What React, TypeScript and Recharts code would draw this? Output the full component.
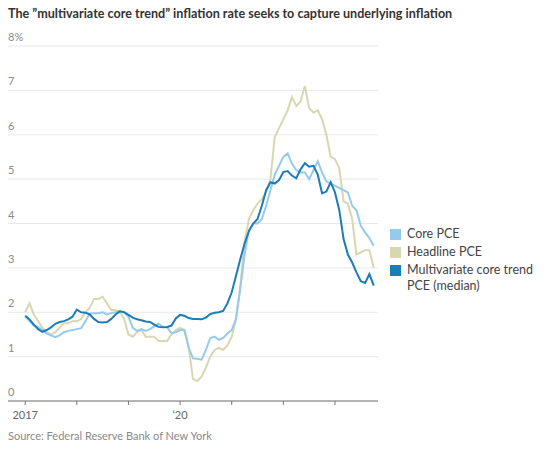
import React from "react";
import {
  LineChart,
  Line,
  XAxis,
  YAxis,
  CartesianGrid,
} from "recharts";

// monthly, Jan 2017 .. Oct 2023 (year-over-year %)
const corePce = [
  1.9, 1.8, 1.7, 1.67, 1.6, 1.52, 1.48, 1.44, 1.48, 1.55, 1.58, 1.6,
  1.62, 1.64, 1.8, 1.97, 1.98, 1.98, 2.0, 1.95, 1.98, 2.0, 2.02, 2.0,
  1.9, 1.65, 1.58, 1.62, 1.58, 1.62, 1.68, 1.74, 1.67, 1.66, 1.53, 1.55,
  1.6, 1.6, 1.2, 0.96, 0.95, 0.93, 1.15, 1.42, 1.45, 1.38, 1.42, 1.52,
  1.6, 1.85, 2.55, 3.3, 3.85, 4.0, 4.0, 4.1, 4.4, 4.75, 5.1, 5.3,
  5.5, 5.58, 5.35, 5.2, 5.15, 5.15, 5.0, 5.2, 5.4, 5.15, 4.95, 4.9,
  4.85, 4.8, 4.75, 4.7, 4.4, 4.3, 3.95, 3.8, 3.67, 3.5,
];

const headlinePce = [
  2.0, 2.2, 1.95, 1.8, 1.65, 1.55, 1.5, 1.55, 1.65, 1.75, 1.75, 1.8,
  1.8, 1.85, 2.0, 2.1, 2.3, 2.3, 2.35, 2.2, 2.05, 2.05, 2.0, 1.85,
  1.5, 1.45, 1.55, 1.6, 1.45, 1.45, 1.45, 1.35, 1.35, 1.35, 1.5, 1.6,
  1.65, 1.6, 1.2, 0.5, 0.45, 0.55, 0.75, 1.0, 1.15, 1.2, 1.15, 1.25,
  1.45, 1.85, 2.6, 3.6, 4.1, 4.3, 4.45, 4.55, 4.7, 5.0, 5.95, 6.15,
  6.35, 6.55, 6.85, 6.65, 6.75, 7.1, 6.6, 6.5, 6.55, 6.35, 6.0, 5.5,
  5.45, 5.25, 4.5, 4.45, 4.1, 3.3, 3.35, 3.4, 3.4, 3.0,
];

const trendPce = [
  1.92, 1.84, 1.72, 1.62, 1.56, 1.6, 1.66, 1.74, 1.78, 1.8, 1.84, 1.9,
  2.06, 2.0, 1.99, 1.95, 1.85, 1.78, 1.77, 1.78, 1.85, 1.95, 2.02, 2.0,
  1.94, 1.88, 1.84, 1.82, 1.79, 1.78, 1.72, 1.67, 1.66, 1.67, 1.7, 1.86,
  1.94, 1.92, 1.87, 1.85, 1.85, 1.84, 1.88, 1.96, 1.99, 2.0, 2.03, 2.2,
  2.45, 2.82, 3.2, 3.55, 3.83, 4.0, 4.1, 4.4, 4.75, 4.93, 4.9, 4.98,
  5.16, 5.18, 5.08, 5.02, 5.22, 5.36, 5.28, 5.3, 5.1, 4.68, 4.72, 4.93,
  4.7, 4.3, 3.65, 3.3, 3.12, 2.9, 2.7, 2.66, 2.86, 2.6,
];

// one tick per January, 2017..2023
const yearTicks = [0, 12, 24, 36, 48, 60, 72];
const yearLabels = ["2017", "", "", "\u201820", "", "", ""];
const yTicks = [0, 1, 2, 3, 4, 5, 6, 7, 8];

const data = corePce.map((v, i) => ({
  m: i,
  core: v,
  headline: headlinePce[i],
  trend: trendPce[i],
}));

const COLORS = {
  core: "#96caec",
  headline: "#d9d6b2",
  trend: "#1a7db5",
};

const legendItems = [
  { label: "Core PCE", color: COLORS.core },
  { label: "Headline PCE", color: COLORS.headline },
  { label: "Multivariate core trend\nPCE (median)", color: COLORS.trend },
];

const FONT = "Lato, 'Noto Sans', sans-serif";

const YTick = (props: any) => {
  const { y, payload } = props;
  const text = payload.value === 8 ? "8%" : String(payload.value);
  return (
    <text x={8} y={y - 5} fill="#8a8a8a" fontSize={11} fontFamily={FONT}>
      {text}
    </text>
  );
};

const XTick = (props: any) => {
  const { x, y, payload } = props;
  const idx = yearTicks.indexOf(payload.value);
  return (
    <text
      x={x}
      y={y + 12}
      textAnchor="middle"
      fill="#666"
      fontSize={11}
      fontFamily={FONT}
    >
      {yearLabels[idx]}
    </text>
  );
};

export default function App() {
  return (
    <div
      style={{
        position: "absolute",
        left: 0,
        top: 0,
        width: 560,
        height: 450,
        background: "#fff",
        fontFamily: FONT,
      }}
    >
      <div
        style={{
          position: "absolute",
          left: 8,
          top: 6,
          fontSize: 12.6,
          fontWeight: 700,
          color: "#333",
          whiteSpace: "nowrap",
        }}
      >
        The ”multivariate core trend” inflation rate seeks to capture underlying inflation
      </div>
      <LineChart
        width={560}
        height={450}
        data={data}
        margin={{ top: 46, right: 182, bottom: 19, left: 7 }}
      >
        <CartesianGrid vertical={false} stroke="#e8e8e8" />
        <XAxis
          dataKey="m"
          type="number"
          domain={[-4, 82]}
          ticks={yearTicks}
          tick={<XTick />}
          height={30}
          axisLine={{ stroke: "#777" }}
          tickLine={{ stroke: "#777" }}
          tickSize={4}
          interval={0}
        />
        <YAxis
          domain={[0, 8]}
          ticks={yTicks}
          width={1}
          axisLine={false}
          tickLine={false}
          tick={<YTick />}
          interval={0}
        />
        <Line
          dataKey="headline"
          stroke={COLORS.headline}
          strokeWidth={2}
          dot={false}
          isAnimationActive={false}
        />
        <Line
          dataKey="core"
          stroke={COLORS.core}
          strokeWidth={2}
          dot={false}
          isAnimationActive={false}
        />
        <Line
          dataKey="trend"
          stroke={COLORS.trend}
          strokeWidth={2}
          dot={false}
          isAnimationActive={false}
        />
      </LineChart>
      <div style={{ position: "absolute", left: 390, top: 226 }}>
        {legendItems.map((it) => (
          <div
            key={it.label}
            style={{
              display: "flex",
              alignItems: "flex-start",
              fontSize: 12.5,
              color: "#444",
              lineHeight: "16px",
              marginBottom: 2,
            }}
          >
            <span
              style={{
                width: 11,
                height: 11,
                background: it.color,
                marginTop: 3,
                marginRight: 6,
                flexShrink: 0,
              }}
            />
            <span style={{ whiteSpace: "pre" }}>{it.label}</span>
          </div>
        ))}
      </div>
      <div
        style={{
          position: "absolute",
          left: 8,
          top: 429,
          fontSize: 11,
          color: "#8a8a8a",
        }}
      >
        Source: Federal Reserve Bank of New York
      </div>
    </div>
  );
}
